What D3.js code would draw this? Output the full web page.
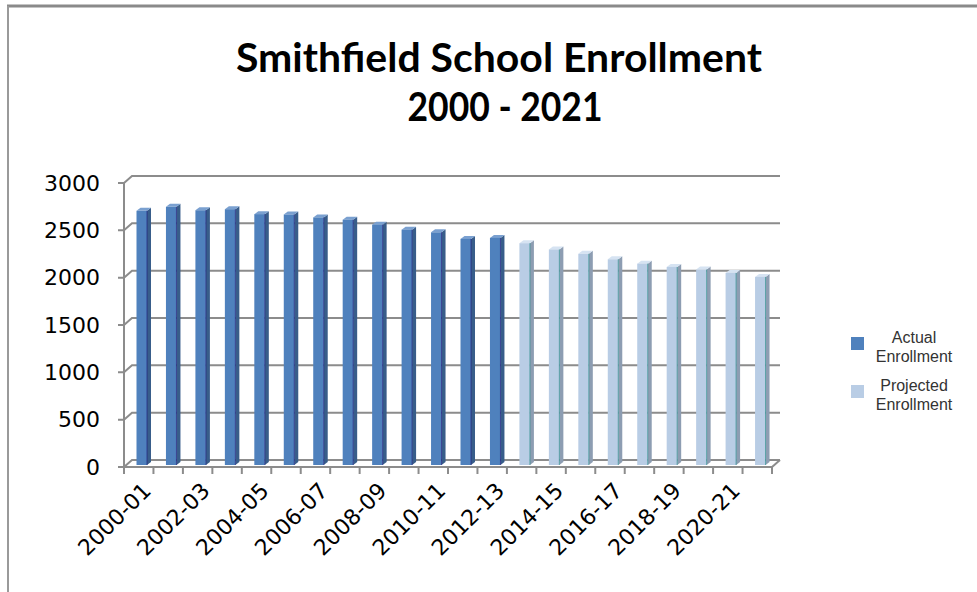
<!DOCTYPE html>
<html>
<head>
<meta charset="utf-8">
<script src="https://cdnjs.cloudflare.com/ajax/libs/d3/7.8.5/d3.min.js"></script>
<style>
  body { margin: 0; background: #fff; }
  svg { display: block; }
</style>
</head>
<body>
<div class="chart"></div>
<script>
// school years, one bar each
var categories = ["2000-01","2001-02","2002-03","2003-04","2004-05","2005-06","2006-07","2007-08",
                  "2008-09","2009-10","2010-11","2011-12","2012-13","2013-14","2014-15","2015-16",
                  "2016-17","2017-18","2018-19","2019-20","2020-21","2021-22"];

// 2000-01 .. 2012-13
var actual = [2685, 2727, 2691, 2702, 2650, 2646, 2615, 2591, 2539, 2486, 2458, 2388, 2399];
// 2013-14 .. 2021-22
var projected = [2343, 2277, 2231, 2173, 2127, 2092, 2064, 2029, 1987];

var yTicks = [0, 500, 1000, 1500, 2000, 2500, 3000];
var xLabels = ["2000-01","2002-03","2004-05","2006-07","2008-09","2010-11",
               "2012-13","2014-15","2016-17","2018-19","2020-21"];

var seriesNames = ["Actual Enrollment", "Projected Enrollment"];

var W = 977, H = 592;
var plot = { left: 124, right: 772, top: 183, bottom: 467 };
var depth = { dx: 8, dy: -7 };      // wall depth
var barDepth = { dx: 4, dy: -3 };   // bar depth

var colors = {
  actual:    { front: "#4f81bd", side: "#385d8a", top: "#7aa0d0", edge: "#23237f" },
  projected: { front: "#b9cde5", side: "#8d9db2", top: "#d6e3f2", edge: "#2f8f8f" }
};

var data = categories.map(function(c, i) {
  var isActual = i < actual.length;
  return {
    cat: c,
    value: isActual ? actual[i] : projected[i - actual.length],
    type: isActual ? "actual" : "projected"
  };
});

var x = d3.scaleBand()
          .domain(categories)
          .range([plot.left, plot.right])
          .padding(0);

var y = d3.scaleLinear()
          .domain([0, 3000])
          .range([plot.bottom, plot.top]);

var svg = d3.select(".chart").append("svg")
            .attr("width", W)
            .attr("height", H);

// outer frame (top and left only visible)
svg.append("line")
   .attr("x1", 7).attr("y1", 6).attr("x2", W).attr("y2", 6)
   .attr("stroke", "#8a8a8a").attr("stroke-width", 3);
svg.append("line")
   .attr("x1", 8).attr("y1", 6).attr("x2", 8).attr("y2", H)
   .attr("stroke", "#9a9a9a").attr("stroke-width", 2);

// title
var title = svg.append("text")
   .attr("text-anchor", "middle")
   .style("font-family", "Lato, 'Open Sans', sans-serif")
   .style("font-weight", "bold")
   .style("font-size", "40px")
   .attr("fill", "#000");
title.append("tspan").attr("x", 499).attr("y", 72)
     .attr("textLength", 526).attr("lengthAdjust", "spacingAndGlyphs")
     .text("Smithfield School Enrollment");
title.append("tspan").attr("x", 505).attr("y", 121)
     .attr("textLength", 195).attr("lengthAdjust", "spacingAndGlyphs")
     .text("2000 - 2021");

var gridColor = "#8c8c8c";

// gridlines on side + back walls
svg.append("g").selectAll("path")
   .data(yTicks)
   .enter().append("path")
   .attr("fill", "none")
   .attr("stroke", gridColor)
   .attr("stroke-width", 2)
   .attr("d", function(t) {
     var yy = y(t);
     return "M" + (plot.left - 6) + "," + yy +
            "L" + plot.left + "," + yy +
            "L" + (plot.left + depth.dx) + "," + (yy + depth.dy) +
            "L" + (plot.right + depth.dx) + "," + (yy + depth.dy);
   });

// floor right edge
svg.append("line")
   .attr("x1", plot.right).attr("y1", y(0))
   .attr("x2", plot.right + depth.dx).attr("y2", y(0) + depth.dy)
   .attr("stroke", gridColor).attr("stroke-width", 2);

// bars
var bw = 10.5;
var bars = svg.append("g").selectAll("g.bar")
   .data(data)
   .enter().append("g")
   .attr("class", "bar");

function bx(d) { return x(d.cat) + 12.5; }
function by(d) { return y(d.value) - 2; }
var base = y(0) - 2;

bars.append("path")
   .attr("fill", function(d) { return colors[d.type].side; })
   .attr("d", function(d) {
     var x0 = bx(d) + bw, t = by(d);
     return "M" + x0 + "," + t + "L" + (x0 + barDepth.dx) + "," + (t + barDepth.dy) +
            "L" + (x0 + barDepth.dx) + "," + (base + barDepth.dy) + "L" + x0 + "," + base + "Z";
   });
bars.append("path")
   .attr("fill", function(d) { return colors[d.type].top; })
   .attr("d", function(d) {
     var x0 = bx(d), t = by(d);
     return "M" + x0 + "," + t + "L" + (x0 + barDepth.dx) + "," + (t + barDepth.dy) +
            "L" + (x0 + bw + barDepth.dx) + "," + (t + barDepth.dy) + "L" + (x0 + bw) + "," + t + "Z";
   });
bars.append("rect")
   .attr("x", bx)
   .attr("y", by)
   .attr("width", bw)
   .attr("height", function(d) { return base - by(d); })
   .attr("fill", function(d) { return colors[d.type].front; });
bars.append("line")
   .attr("x1", function(d) { return bx(d) + bw; })
   .attr("x2", function(d) { return bx(d) + bw; })
   .attr("y1", by)
   .attr("y2", base)
   .attr("stroke", function(d) { return colors[d.type].edge; })
   .attr("stroke-width", 1)
   .attr("opacity", 0.7);

// front floor edge + left axis
svg.append("line")
   .attr("x1", plot.left).attr("y1", y(0)).attr("x2", plot.right).attr("y2", y(0))
   .attr("stroke", gridColor).attr("stroke-width", 2);
svg.append("line")
   .attr("x1", plot.left).attr("y1", y(3000)).attr("x2", plot.left).attr("y2", y(0) + 7)
   .attr("stroke", gridColor).attr("stroke-width", 2);

// category tick marks
var bounds = categories.map(function(c) { return x(c); }).concat([plot.right]);
svg.append("g").selectAll("line")
   .data(bounds)
   .enter().append("line")
   .attr("x1", function(d) { return d; }).attr("x2", function(d) { return d; })
   .attr("y1", y(0)).attr("y2", y(0) + 7)
   .attr("stroke", gridColor).attr("stroke-width", 2);

// y tick labels
var yAxis = d3.axisLeft(y).tickValues(yTicks).tickFormat(d3.format("d")).tickSize(0).tickPadding(0);
svg.append("g")
   .attr("class", "y axis")
   .attr("transform", "translate(100,0)")
   .call(yAxis)
   .call(function(g) { g.select(".domain").remove(); })
   .selectAll("text")
   .style("font-family", "'DejaVu Sans', Verdana, sans-serif")
   .style("font-size", "22px")
   .attr("fill", "#000");

// x tick labels, rotated
var xAxis = d3.axisBottom(x).tickValues(xLabels).tickSize(0).tickPadding(0);
svg.append("g")
   .attr("class", "x axis")
   .attr("transform", "translate(0," + (y(0) + 20) + ")")
   .call(xAxis)
   .call(function(g) { g.select(".domain").remove(); })
   .selectAll("text")
   .style("font-family", "'DejaVu Sans', Verdana, sans-serif")
   .style("font-size", "22px")
   .attr("fill", "#000")
   .attr("dy", "0.6em")
   .attr("x", 6)
   .attr("y", 0)
   .style("text-anchor", "end")
   .attr("transform", "rotate(-45)");

// legend
var legend = svg.append("g")
   .selectAll("g")
   .data(seriesNames)
   .enter().append("g")
   .attr("transform", function(d, i) { return "translate(851," + (337 + i * 48) + ")"; });
legend.append("rect")
   .attr("width", 13).attr("height", 13)
   .attr("fill", function(d, i) { return i === 0 ? colors.actual.front : colors.projected.front; });
var lt = legend.append("text")
   .attr("text-anchor", "middle")
   .style("font-family", "'Liberation Sans', Arial, sans-serif")
   .style("font-size", "16px")
   .attr("fill", "#333");
lt.append("tspan").attr("x", 63).attr("y", 6).text(function(d) { return d.split(" ")[0]; });
lt.append("tspan").attr("x", 63).attr("y", 25).text(function(d) { return d.split(" ")[1]; });
</script>
</body>
</html>
